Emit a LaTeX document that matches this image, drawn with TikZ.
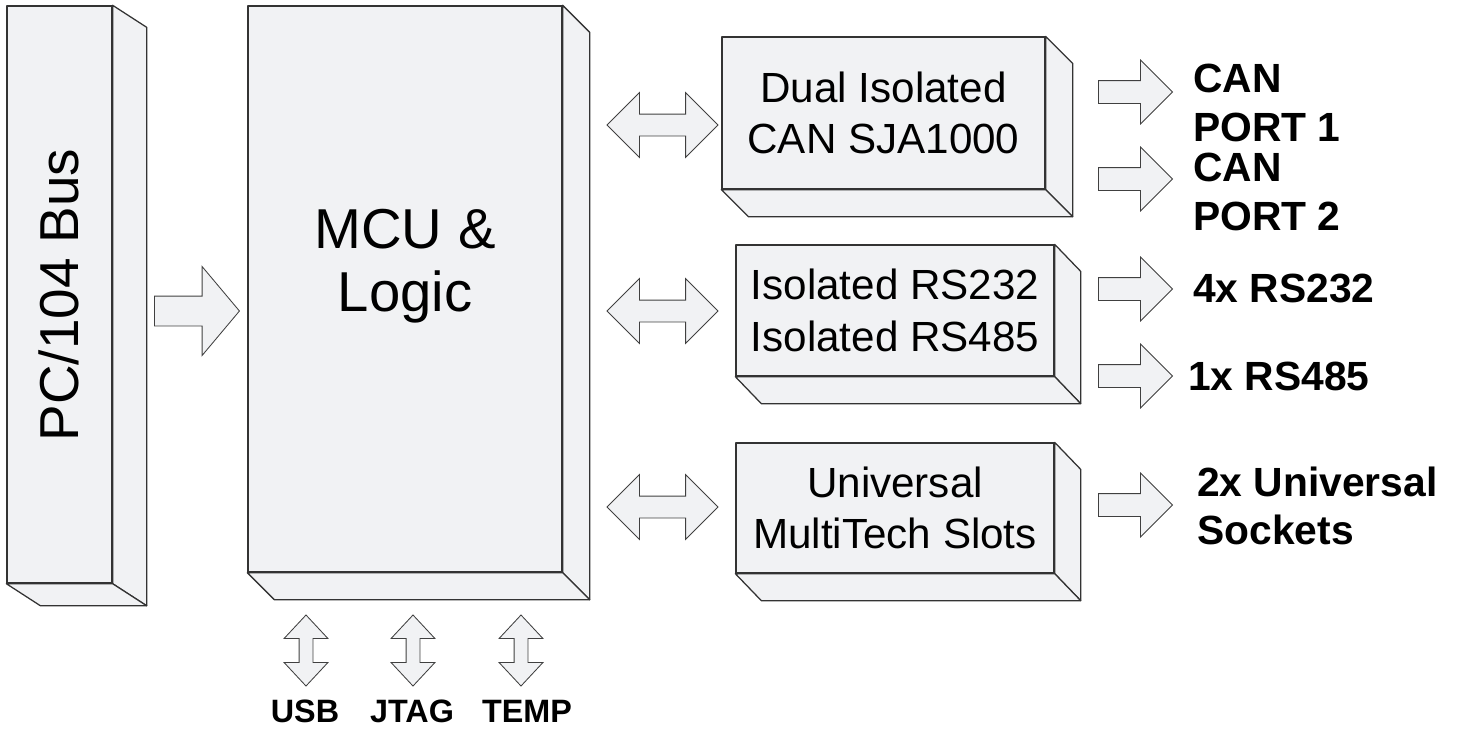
\documentclass[tikz,border=0pt]{standalone}
\usepackage{fontspec}
\setmainfont{Liberation Sans}
\usetikzlibrary{calc,positioning,shapes.arrows}

\definecolor{boxfill}{RGB}{241,242,244}

\tikzset{
	face/.style={draw=black!80, fill=boxfill, line width=0.9pt, line join=round},
	front/.style={face, inner sep=0pt, align=center, font=\fontsize{30}{36.5}\selectfont},
	blkarrow/.style={draw=black!75, fill=boxfill, line width=0.6pt, inner xsep=0pt, minimum width=0pt},
	outarrow/.style={blkarrow, single arrow, anchor=tail, inner ysep=0.275cm,
		single arrow head extend=0.5125cm, single arrow tip angle=90, minimum height=1.85cm},
	busarrow/.style={blkarrow, double arrow, inner ysep=0.2625cm,
		double arrow head extend=0.5375cm, double arrow tip angle=90, minimum height=2.775cm},
	iobusarrow/.style={blkarrow, double arrow, rotate=90, inner ysep=0.1625cm,
		double arrow head extend=0.375cm, double arrow tip angle=86, minimum height=1.775cm},
	portlabel/.style={anchor=west, align=left, inner sep=0pt, font=\fontsize{29}{34.5}\selectfont\bfseries},
	iolabel/.style={inner sep=0pt, font=\fontsize{23}{28}\selectfont\bfseries}
}

% depth of a 3D box: right side and bottom face
\newcommand{\boxdepth}[3]{%
	\draw[face] (#1.north east) -- ++(#2,#3) -- ($(#1.south east)+(#2,#3)$) -- (#1.south east) -- cycle;
	\draw[face] (#1.south west) -- (#1.south east) -- ++(#2,#3) -- ($(#1.south west)+(#2,#3)$) -- cycle;
}

\begin{document}
\begin{tikzpicture}[x=0.025cm, y=-0.025cm]
	\useasboundingbox (0,0) rectangle (1460,732);

	% Boxes
	\node[front, minimum width=2.625cm, minimum height=14.425cm] (pc104) at (59.5,294.5) {};
	\boxdepth{pc104}{34}{22}
	\node[rotate=90, inner sep=0pt, font=\fontsize{39}{47}\selectfont] (pctext) at (59,295) {PC/104 Bus};

	\node[front, minimum width=7.85cm, minimum height=14.15cm] (mcu) at (405,289) {};
	\boxdepth{mcu}{27}{27}
	\node[align=center, inner sep=0pt, font=\fontsize{40}{45}\selectfont] (mcutext) at (405,266) {MCU \&\\Logic};

	\node[front, minimum width=8.075cm, minimum height=3.8cm] (can) at (883.5,113) {Dual Isolated\\CAN SJA1000};
	\boxdepth{can}{27}{27}

	\node[front, minimum width=7.95cm, minimum height=3.275cm] (rs) at (895,310.5) {Isolated RS232\\Isolated RS485};
	\boxdepth{rs}{26}{27}

	\node[front, minimum width=7.95cm, minimum height=3.25cm] (uni) at (895,508) {Universal\\MultiTech Slots};
	\boxdepth{uni}{26}{27}

	% PC/104 bus into the MCU
	\node[blkarrow, single arrow, anchor=tail, inner ysep=0.3625cm, single arrow head extend=0.7375cm,
		single arrow tip angle=100, minimum height=2.125cm] (pcarrow) at (154,311) {};

	% MCU to the interfaces
	\node[busarrow] (canbus) at (662.5,125) {};
	\node[busarrow] (rsbus) at (662.5,311) {};
	\node[busarrow] (unibus) at (662.5,507) {};

	% Outputs
	\node[outarrow] (out1) at (1098,92) {};
	\node[outarrow] (out2) at (1098,179) {};
	\node[outarrow] (out3) at (1098,289) {};
	\node[outarrow] (out4) at (1098,376) {};
	\node[outarrow] (out5) at (1098,505) {};

	\node[portlabel] (can1) at (1193,103) {CAN\\PORT 1};
	\node[portlabel] (can2) at (1193,192) {CAN\\PORT 2};
	\node[portlabel] (rs232) at (1193,288) {4x RS232};
	\node[portlabel] (rs485) at (1188,376) {1x RS485};
	\node[portlabel] (sock) at (1197,506) {2x Universal\\Sockets};

	% MCU side ports
	\node[iobusarrow] (usbbus) at (306,650.5) {};
	\node[iobusarrow] (jtagbus) at (413,650.5) {};
	\node[iobusarrow] (tempbus) at (521,650.5) {};
	\node[iolabel] (usb) at (305,711) {USB};
	\node[iolabel] (jtag) at (412,711) {JTAG};
	\node[iolabel] (temp) at (527,711) {TEMP};
\end{tikzpicture}
\end{document}
